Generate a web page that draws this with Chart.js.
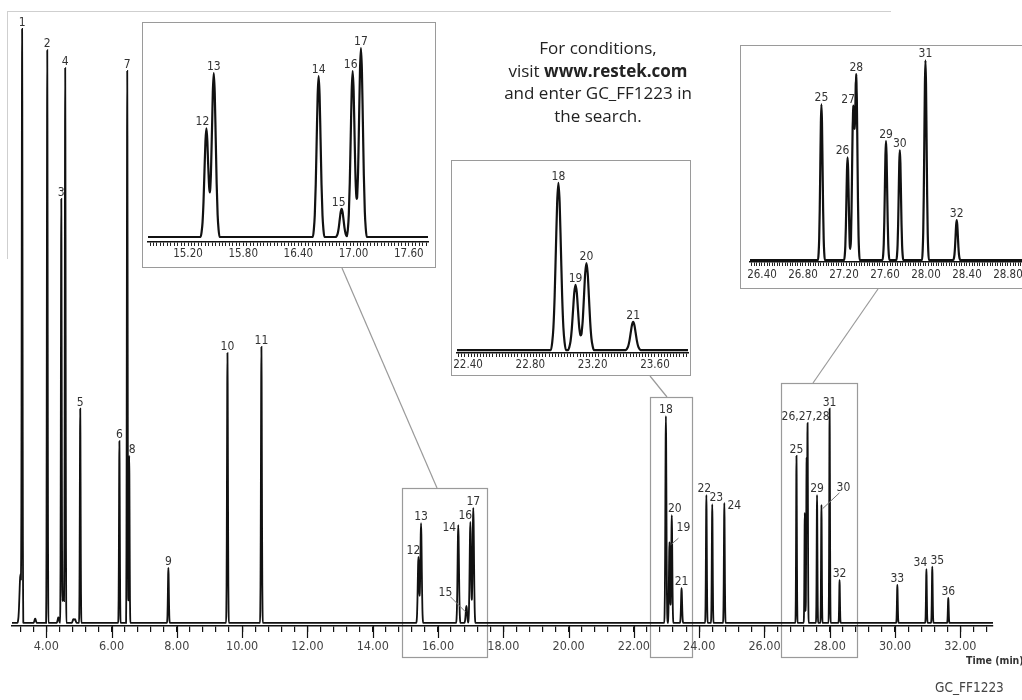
<!DOCTYPE html>
<html>
<head>
<meta charset="utf-8">
<title>GC_FF1223</title>
<script src="https://cdn.jsdelivr.net/npm/chart.js@4.4.1/dist/chart.umd.min.js"></script>
<style>
  html, body { margin: 0; padding: 0; background: #fff; overflow: hidden; }
  #page { position: relative; width: 1022px; height: 700px; overflow: hidden; }
  #frame { position: absolute; left: 7px; top: 11px; width: 883px; height: 247px;
           border-top: 1px solid #cfcfcf; border-left: 1px solid #cfcfcf; }
  #main { position: absolute; left: 0; top: 0; }
  .inset { position: absolute; border: 1px solid #9a9a9a; background: #fff; }
  .inset canvas { display: block; }
  #note { position: absolute; left: 448px; top: 37px; width: 300px; text-align: center;
          font-family: "Open Sans", sans-serif; font-size: 17px; line-height: 22.5px; color: #222; }
  #note b { font-weight: 700; }
  #code { position: absolute; left: 935px; top: 678px; line-height: 18px;
          font-family: "DejaVu Sans Condensed", sans-serif; font-size: 13.5px; color: #444; }
  #unit { position: absolute; left: 966px; top: 653px; white-space: nowrap; line-height: 14px;
          font-family: "DejaVu Sans Condensed", sans-serif; font-size: 10.5px; font-weight: bold; color: #333; }
</style>
</head>
<body>
<div id="page">
  <div id="frame"></div>
  <canvas id="main" width="1022" height="700"></canvas>
  <div class="inset" style="left:142px; top:22px;"><canvas id="inset1" width="292" height="244"></canvas></div>
  <div class="inset" style="left:451px; top:160px;"><canvas id="inset2" width="238" height="214"></canvas></div>
  <div class="inset" style="left:740px; top:45px;"><canvas id="inset3" width="298" height="242"></canvas></div>
  <div id="note">For conditions,<br>visit <b>www.restek.com</b><br>and enter GC_FF1223 in<br>the search.</div>
  <div id="unit">Time (min)</div>
  <div id="code">GC_FF1223</div>
</div>

<script>
// numbered peaks: retention time (min), height (% of full scale), peak sigma (min)
const peakIds = ['1','2','3','4','5','6','7','8','9','10','11','12','13','14','15','16','17','18',
  '19','20','21','22','23','24','25','26','27','28','29','30','31','32','33','34','35','36'];
const peakTimes = [3.26, 4.03, 4.46, 4.58, 5.04, 6.24, 6.48, 6.54, 7.74, 9.55, 10.59,
  15.40, 15.48, 16.62, 16.87, 16.99, 17.08,
  22.98, 23.09, 23.16, 23.46, 24.22, 24.40, 24.77,
  26.98, 27.235, 27.29, 27.32, 27.61, 27.745, 27.995, 28.30,
  30.07, 30.96, 31.14, 31.63];
const peakHeights = [95.0, 93.6, 68.6, 90.0, 35.0, 29.7, 90.2, 27.3, 9.0, 44.1, 45.1,
  10.8, 16.3, 16.0, 2.8, 16.5, 18.8,
  33.8, 13.2, 17.6, 5.7, 20.9, 19.4, 19.6,
  27.3, 18.0, 26.3, 32.0, 20.9, 19.3, 35.0, 7.0,
  6.2, 8.8, 9.2, 4.1];
const peakSigmas = [0.012, 0.012, 0.012, 0.012, 0.012, 0.012, 0.012, 0.012, 0.014, 0.014, 0.014,
  0.021, 0.021, 0.021, 0.021, 0.021, 0.021,
  0.016, 0.016, 0.016, 0.016, 0.013, 0.013, 0.013,
  0.011, 0.011, 0.011, 0.011, 0.011, 0.011, 0.011, 0.011,
  0.012, 0.012, 0.012, 0.012];

// small unnumbered bumps near the solvent front
const minorTimes = [3.21, 3.66, 4.37, 4.52, 4.83, 4.88];
const minorHeights = [8.0, 0.7, 0.9, 5.0, 0.6, 0.6];
const minorSigmas = [0.03, 0.02, 0.02, 0.03, 0.02, 0.02];

// axis tick labels
const mainTickLabels = ['4.00','6.00','8.00','10.00','12.00','14.00','16.00','18.00','20.00',
  '22.00','24.00','26.00','28.00','30.00','32.00'];
const inset1TickLabels = ['15.20','15.80','16.40','17.00','17.60'];
const inset2TickLabels = ['22.40','22.80','23.20','23.60'];
const inset3TickLabels = ['26.40','26.80','27.20','27.60','28.00','28.40','28.80'];

// time windows enlarged in the three insets
const zoomWindows = [[14.90, 17.51], [22.50, 23.79], [26.51, 28.84]];

const NARROW = '"DejaVu Sans Condensed", sans-serif';

// peak profile in sigma units
const PEAK_SHAPE = [[-3, 0], [-2.5, 0.044], [-2, 0.135], [-1.5, 0.325], [-1, 0.607], [-0.5, 0.882],
  [0, 1], [0.5, 0.882], [1, 0.607], [1.5, 0.325], [2, 0.135], [2.5, 0.044], [3, 0]];

const allTimes = peakTimes.concat(minorTimes);
const allHeights = peakHeights.concat(minorHeights);
const allSigmas = peakSigmas.concat(minorSigmas);

function shapeAt(u) {
  const last = PEAK_SHAPE.length - 1;
  if (u <= PEAK_SHAPE[0][0] || u >= PEAK_SHAPE[last][0]) return 0;
  for (let k = 1; k <= last; k++) {
    const [u1, f1] = PEAK_SHAPE[k];
    if (u <= u1) {
      const [u0, f0] = PEAK_SHAPE[k - 1];
      return f0 + (f1 - f0) * (u - u0) / (u1 - u0);
    }
  }
  return 0;
}

function signalAt(t) {
  let s = 0;
  for (let i = 0; i < allTimes.length; i++) s += allHeights[i] * shapeAt((t - allTimes[i]) / allSigmas[i]);
  return s;
}

// detector trace between lo and hi, sampled on the peak profile knots
function buildTrace(lo, hi) {
  const xs = new Set([lo, hi]);
  allTimes.forEach((t0, i) => {
    PEAK_SHAPE.forEach(([u]) => {
      const x = +(t0 + u * allSigmas[i]).toFixed(5);
      if (x > lo && x < hi) xs.add(x);
    });
  });
  return [...xs].sort((a, b) => a - b).map(x => ({ x: x, y: signalAt(x) }));
}

function tickBuilder(labels, perLabel) {
  return scale => {
    const base = parseFloat(labels[0]);
    const step = (parseFloat(labels[1]) - base) / perLabel;
    const ticks = [];
    for (let i = Math.ceil((scale.min - base) / step - 1e-9); base + i * step <= scale.max + 1e-9; i++) {
      ticks.push({ value: +(base + i * step).toFixed(4) });
    }
    scale.ticks = ticks;
  };
}

function tickText(labels) {
  return value => labels.find(l => Math.abs(parseFloat(l) - value) < 1e-6) || '';
}

// peak numbers above the apexes
const peakTagPlugin = {
  id: 'peakTags',
  afterDatasetsDraw(chart, args, opts) {
    const { ctx, scales: { x, y } } = chart;
    const nudge = opts.nudge || {}, hide = opts.hide || [], rename = opts.rename || {}, leader = opts.leader || {};
    ctx.save();
    ctx.font = opts.size + 'px ' + NARROW;
    ctx.fillStyle = '#333';
    ctx.textAlign = 'center';
    ctx.textBaseline = 'alphabetic';
    peakIds.forEach((id, i) => {
      const t = peakTimes[i];
      if (t < x.min || t > x.max || hide.includes(id)) return;
      const px = x.getPixelForValue(t);
      const py = y.getPixelForValue(signalAt(t));
      const d = nudge[id] || [0, 0];
      ctx.fillText(rename[id] || id, px + d[0], py - 3 + d[1]);
      if (leader[id]) {
        const l = leader[id];
        ctx.strokeStyle = '#777';
        ctx.lineWidth = 1;
        ctx.beginPath();
        ctx.moveTo(px + l[0], py + l[1]);
        ctx.lineTo(px + l[2], py + l[3]);
        ctx.stroke();
      }
    });
    ctx.restore();
  }
};

// zoom boxes, connector lines and long ticks on the main time axis
const mainExtras = {
  id: 'mainExtras',
  beforeDraw(chart) {
    const { ctx, scales: { x } } = chart;
    const boxTops = [488, 397, 383];
    ctx.save();
    ctx.strokeStyle = '#9a9a9a';
    ctx.lineWidth = 1.2;
    zoomWindows.forEach(([t0, t1], k) => {
      const l = Math.round(x.getPixelForValue(t0)) + 0.5;
      const r = Math.round(x.getPixelForValue(t1)) + 0.5;
      ctx.strokeRect(l, boxTops[k] + 0.5, r - l, 657 - boxTops[k]);
    });
    [[342, 268, 437, 488], [650, 376, 667, 397], [878, 289, 813, 383]].forEach(s => {
      ctx.beginPath();
      ctx.moveTo(s[0], s[1]);
      ctx.lineTo(s[2], s[3]);
      ctx.stroke();
    });
    ctx.restore();
  },
  afterDraw(chart) {
    const { ctx, chartArea, scales: { x } } = chart;
    ctx.save();
    ctx.strokeStyle = '#111';
    ctx.lineWidth = 1.2;
    mainTickLabels.forEach(l => {
      const px = Math.round(x.getPixelForValue(parseFloat(l))) + 0.5;
      ctx.beginPath();
      ctx.moveTo(px, chartArea.bottom);
      ctx.lineTo(px, chartArea.bottom + 12);
      ctx.stroke();
    });
    ctx.restore();
  }
};

new Chart(document.getElementById('main'), {
  type: 'line',
  data: {
    datasets: [{
      data: buildTrace(2.95, 33.0),
      borderColor: '#111',
      borderWidth: 1.8,
      pointRadius: 0,
      cubicInterpolationMode: 'monotone',
      fill: false
    }]
  },
  options: {
    responsive: false,
    animation: false,
    events: [],
    layout: { padding: { left: 12, right: 29, top: 11, bottom: 44 } },
    plugins: {
      legend: { display: false },
      tooltip: { enabled: false },
      peakTags: {
        size: 12,
        hide: ['26', '27'],
        rename: { '28': '26,27,28' },
        nudge: {
          '8': [3, 0], '12': [-5, 0], '14': [-9, 9], '15': [-21, -7], '16': [-5, 0], '19': [14, -8],
          '20': [3, 0], '22': [-2, 0], '23': [4, 0], '24': [10, 9], '28': [-2, 0], '30': [22, -11],
          '34': [-6, 0], '35': [5, 0]
        },
        leader: { '15': [-16, -9, -1, 6], '19': [9, -4, 2, 2], '30': [18, -12, 1, 4] }
      }
    },
    scales: {
      x: {
        type: 'linear',
        min: 2.95,
        max: 33.0,
        afterFit: s => { s.height = 30; },
        afterBuildTicks: tickBuilder(mainTickLabels, 5),
        grid: { drawOnChartArea: false, tickLength: 6, color: '#111', lineWidth: 1.2 },
        border: { color: '#111', width: 1.6 },
        ticks: {
          autoSkip: false, maxRotation: 0, minRotation: 0, padding: 7,
          color: '#444', font: { family: NARROW, size: 12.5 },
          callback: tickText(mainTickLabels)
        }
      },
      y: { display: false, min: -0.5, max: 100 }
    }
  },
  plugins: [peakTagPlugin, mainExtras]
});

function makeInset(id, o) {
  return new Chart(document.getElementById(id), {
    type: 'line',
    data: {
      datasets: [{
        data: buildTrace(o.xMin, o.xMax),
        borderColor: '#111',
        borderWidth: 2.2,
        pointRadius: 0,
        cubicInterpolationMode: 'monotone',
        fill: false
      }]
    },
    options: {
      responsive: false,
      animation: false,
      events: [],
      layout: { padding: o.pad },
      plugins: {
        legend: { display: false },
        tooltip: { enabled: false },
        peakTags: Object.assign({ size: 12 }, o.tags)
      },
      scales: {
        x: {
          type: 'linear',
          min: o.xMin,
          max: o.xMax,
          afterFit: s => { s.height = o.axisH; },
          afterBuildTicks: tickBuilder(o.labels, o.perLabel),
          grid: { drawOnChartArea: false, tickLength: 4, color: '#222', lineWidth: 1 },
          border: { color: '#111', width: 1.5 },
          ticks: {
            autoSkip: false, maxRotation: 0, minRotation: 0, padding: o.labelPad,
            color: '#333', font: { family: NARROW, size: 11.5 },
            callback: tickText(o.labels)
          }
        },
        y: { display: false, min: o.yMin, max: o.yMax }
      }
    },
    plugins: [peakTagPlugin]
  });
}

makeInset('inset1', {
  xMin: 14.765, xMax: 17.809, yMin: -0.5, yMax: 20.6,
  pad: { left: 5, right: 7, top: 7, bottom: 0 }, axisH: 25, labelPad: 1,
  labels: inset1TickLabels, perLabel: 16,
  tags: { nudge: { '12': [-4, 0], '15': [-3, 0], '16': [-2, 0] } }
});

makeInset('inset2', {
  xMin: 22.329, xMax: 23.812, yMin: -0.6, yMax: 36.4,
  pad: { left: 5, right: 2, top: 9, bottom: 0 }, axisH: 22, labelPad: 1,
  labels: inset2TickLabels, perLabel: 20,
  tags: {}
});

makeInset('inset3', {
  xMin: 26.283, xMax: 29.015, yMin: -0.35, yMax: 35.96,
  pad: { left: 9, right: 9, top: 9, bottom: 0 }, axisH: 26, labelPad: 2,
  labels: inset3TickLabels, perLabel: 16,
  tags: { nudge: { '26': [-5, 0], '27': [-5, 0] } }
});
</script>
</body>
</html>
